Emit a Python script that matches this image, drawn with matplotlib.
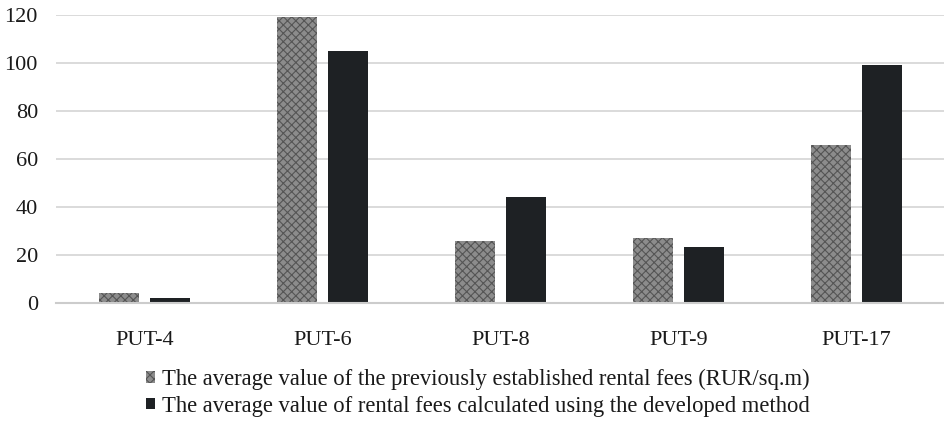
import matplotlib
matplotlib.use("Agg")
import matplotlib.pyplot as plt
import numpy as np

categories = ["PUT-4", "PUT-6", "PUT-8", "PUT-9", "PUT-17"]
previous_fees = [4, 119, 26, 27, 66]
method_fees = [2, 105, 44, 23.5, 99]
series_labels = [
    "The average value of the previously established rental fees (RUR/sq.m)",
    "The average value of rental fees calculated using the developed method",
]
y_ticks = [0, 20, 40, 60, 80, 100, 120]

plt.rcParams["font.family"] = ["Liberation Serif", "DejaVu Serif"]
plt.rcParams["hatch.linewidth"] = 0.8

fig = plt.figure(figsize=(9.45, 4.22), dpi=100)
ax = fig.add_axes([56 / 945, 1 - 303 / 422, 1 - 56 / 945, 288 / 422])

x = np.arange(len(categories))
w = 0.225
off = 0.143
b1 = ax.bar(x - off, previous_fees, w, color="#8c8c8c", edgecolor="#555555",
            hatch="xxxx", linewidth=0, label=series_labels[0], zorder=3)
b2 = ax.bar(x + off, method_fees, w, color="#1e2124", edgecolor="#1e2124",
            linewidth=0, label=series_labels[1], zorder=3)

ax.set_xlim(-0.5, len(categories) - 0.5)
ax.set_ylim(0, 120)
ax.set_yticks(y_ticks)
ax.set_xticks(x)
ax.set_xticklabels(categories)
ax.tick_params(axis="both", length=0, labelsize=16, colors="#1a1a1a")
ax.tick_params(axis="y", pad=13)
ax.tick_params(axis="x", pad=20)
ax.yaxis.grid(True, color="#d4d4d4", linewidth=1.2, zorder=0)
for s in ["top", "right", "left"]:
    ax.spines[s].set_visible(False)
ax.spines["bottom"].set_color("#cccccc")
ax.spines["bottom"].set_linewidth(1.5)
ax.spines["bottom"].set_zorder(4)

leg = fig.legend(handles=[b1, b2], labels=series_labels, loc="upper left",
                 bbox_to_anchor=(146 / 945, 1 - 369 / 422), frameon=False,
                 fontsize=16.3, handlelength=0.4, handleheight=0.4,
                 handletextpad=0.3, labelspacing=0.25, borderaxespad=0,
                 borderpad=0)
for t in leg.get_texts():
    t.set_color("#1a1a1a")

fig.savefig("out.png", dpi=100)
